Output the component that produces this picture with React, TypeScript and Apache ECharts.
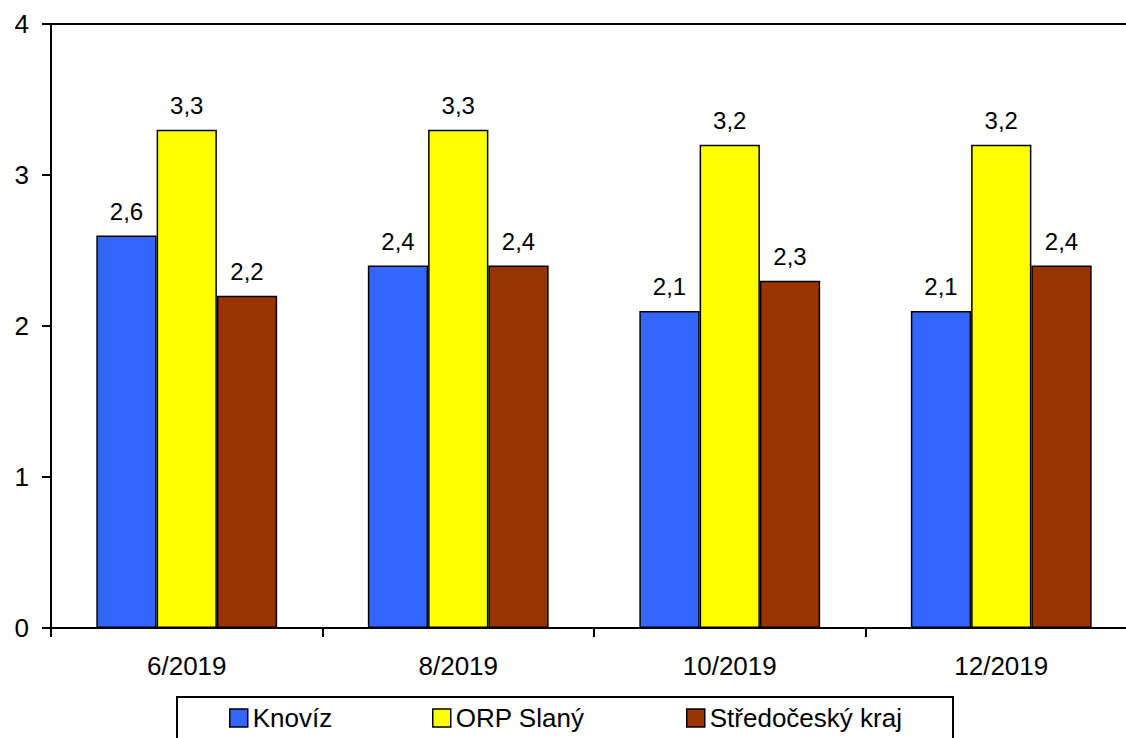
import React, { useEffect, useRef } from "react";
import * as echarts from "echarts";

const categories = ["6/2019", "8/2019", "10/2019", "12/2019"];
const seriesNames = ["Knovíz", "ORP Slaný", "Středočeský kraj"];
const knoviz = [2.6, 2.4, 2.1, 2.1];
const orpSlany = [3.3, 3.3, 3.2, 3.2];
const stredocesky = [2.2, 2.4, 2.3, 2.4];
const colors = ["#3366FF", "#FFFF00", "#993300"];
const yTicks = { min: 0, max: 4, interval: 1 };

const FONT = "'Liberation Sans', Arial, sans-serif";

export default function App() {
  const ref = useRef<HTMLDivElement>(null);
  useEffect(() => {
    if (!ref.current) return;
    const chart = echarts.init(ref.current, undefined, { renderer: "svg" });
    const values = [knoviz, orpSlany, stredocesky];
    const legendLefts = [229, 432, 686];
    chart.setOption({
      animation: false,
      backgroundColor: "#fff",
      textStyle: { fontFamily: FONT },
      grid: {
        left: 51,
        top: 24,
        width: 1086,
        height: 604,
        outerBoundsMode: "none",
        containLabel: false,
        show: true,
        borderColor: "#000",
        borderWidth: 2,
        backgroundColor: "transparent",
      },
      legend: seriesNames.map((n, i) => ({
        data: [n],
        left: legendLefts[i],
        top: 705,
        padding: 0,
        itemWidth: 18,
        itemHeight: 18,
        icon: "rect",
        itemStyle: { borderColor: "#000", borderWidth: 1.5 },
        textStyle: { fontSize: 26, color: "#000", fontFamily: FONT },
        selectedMode: false,
      })),
      xAxis: {
        type: "category",
        data: categories,
        boundaryGap: true,
        axisLine: { lineStyle: { color: "#000", width: 2 } },
        axisTick: { show: true, length: 9, lineStyle: { color: "#000", width: 2 } },
        axisLabel: { fontSize: 26, color: "#000", margin: 25, fontFamily: FONT },
        splitLine: { show: false },
      },
      yAxis: {
        type: "value",
        min: yTicks.min,
        max: yTicks.max,
        interval: yTicks.interval,
        axisLine: { show: true, lineStyle: { color: "#000", width: 2 } },
        axisTick: { show: true, length: 9, lineStyle: { color: "#000", width: 2 } },
        axisLabel: { fontSize: 26, color: "#000", margin: 22, fontFamily: FONT },
        splitLine: { show: false },
      },
      graphic: [
        {
          type: "rect",
          shape: { x: 177, y: 697, width: 776, height: 60 },
          style: { fill: "none", stroke: "#000", lineWidth: 2 },
          z: 100,
        },
      ],
      series: seriesNames.map((n, i) => ({
        name: n,
        type: "bar",
        data: values[i],
        barGap: "0%",
        barCategoryGap: "33.4%",
        itemStyle: { color: colors[i], borderColor: "#000", borderWidth: 1.5 },
        label: {
          show: true,
          position: "top",
          distance: 12,
          fontSize: 24,
          color: "#000",
          fontFamily: FONT,
          formatter: (p: any) => String(p.value).replace(".", ","),
        },
      })),
    });
    return () => chart.dispose();
  }, []);
  return (
    <div
      ref={ref}
      style={{ position: "fixed", left: 0, top: 0, width: 1126, height: 738 }}
    />
  );
}
